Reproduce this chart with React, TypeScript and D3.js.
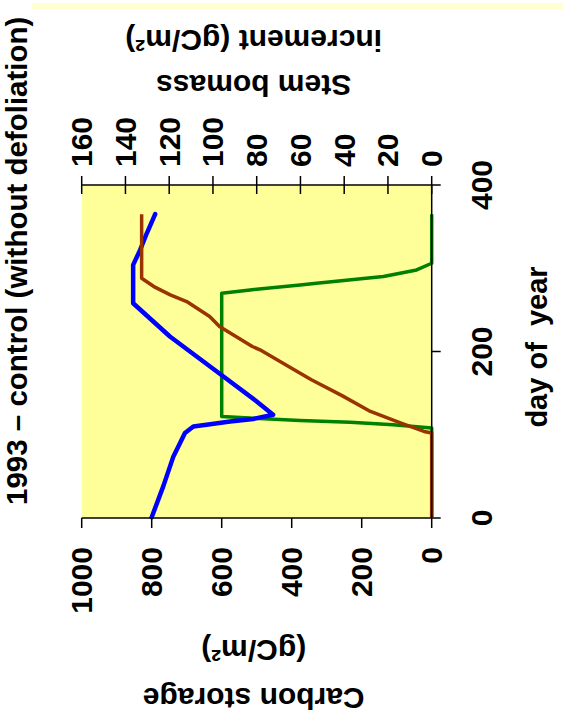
import React from 'react';
import * as d3 from 'd3';

// ---- text ----
const chartTitle = '1993 \u2013 control (without defoliation)';
const dayLabel = 'day of  year';
const carbonLabel = ['Carbon storage', '(gC/m\u00B2)'];
const stemLabel = ['Stem bomass', 'increment (gC/m\u00B2)'];

// ---- ticks ----
const dayTicks = [0, 200, 400];
const carbonTicks = [0, 200, 400, 600, 800, 1000];
const stemTicks = [0, 20, 40, 60, 80, 100, 120, 140, 160];

// ---- series ----
// carbon storage (blue), gC/m2
const storageDays = [1, 38, 74, 90, 102, 110, 112.5, 116, 119, 124, 140, 170, 218, 258, 304, 322, 342, 365];
const storageValues = [800, 767, 738, 719, 705, 681, 633, 576, 510, 453, 500, 595, 748, 853, 853, 833, 814, 790];

// foliage carbon (green), gC/m2
const foliageDays = [1, 108, 112, 115, 117, 120, 122, 270, 274, 280, 282, 290, 298, 306, 365];
const foliageValues = [0, 0, 110, 233, 376, 519, 600, 600, 519, 376, 329, 138, 43, 0, 0];

// stem biomass increment (brown), gC/m2 (right axis)
const stemDays = [1, 102, 104, 114, 128, 147, 166, 176, 202, 206, 230, 242, 260, 268, 278, 288, 365];
const stemValues = [0, 0, 3.5, 14, 28, 41, 55, 61.5, 78.5, 82, 97, 101.5, 112, 119.5, 127, 132.6, 132.6];

const FONT = '"Liberation Sans", Arial, Helvetica, sans-serif';

export default function App() {
  const W = 333; // day axis length
  const H = 350; // value axis length
  const x = d3.scaleLinear().domain([0, 400]).range([0, W]);
  const yC = d3.scaleLinear().domain([0, 1000]).range([H, 0]);
  const yS = d3.scaleLinear().domain([0, 160]).range([H, 0]);

  const lineC = d3.line<[number, number]>().x(d => x(d[0])).y(d => yC(d[1]));
  const lineS = d3.line<[number, number]>().x(d => x(d[0])).y(d => yS(d[1]));

  const storage = storageDays.map((d, i) => [d, storageValues[i]] as [number, number]);
  const foliage = foliageDays.map((d, i) => [d, foliageValues[i]] as [number, number]);
  const stem = stemDays.map((d, i) => [d, stemValues[i]] as [number, number]);

  const txt = { fontFamily: FONT, fontWeight: 'bold' as const, fill: '#000' };

  return (
    <svg width={563} height={716} style={{ position: 'absolute', left: 0, top: 0, background: '#fff' }}>
      <rect x={32} y={3} width={531} height={6} fill="#FFFFD0" />
      <g transform="translate(81.7,518) rotate(-90)">
        <rect x={0} y={0} width={W} height={H} fill="#FFFF99" />
        {/* series */}
        <path d={lineC(foliage) || ''} fill="none" stroke="#008000" strokeWidth={3.5} strokeLinejoin="round" />
        <path d={lineC(storage) || ''} fill="none" stroke="#0000FF" strokeWidth={4.5} strokeLinejoin="round" strokeLinecap="round" />
        <path d={lineS(stem) || ''} fill="none" stroke="#993300" strokeWidth={3.5} strokeLinejoin="round" />

        {/* axes lines */}
        <line x1={0} y1={0} x2={0} y2={H} stroke="#000" strokeWidth={1.5} />
        <line x1={W} y1={0} x2={W} y2={H} stroke="#000" strokeWidth={1.5} />
        <line x1={0} y1={H} x2={W} y2={H} stroke="#000" strokeWidth={1.5} />

        {/* carbon axis (left in original) */}
        {carbonTicks.map(v => (
          <g key={'c' + v}>
            <line x1={0} y1={yC(v)} x2={-10} y2={yC(v)} stroke="#000" strokeWidth={1.5} />
            <text x={-29} y={yC(v)} textAnchor="end" dominantBaseline="central" fontSize={30} {...txt}>{v}</text>
          </g>
        ))}
        {/* stem axis (right in original) */}
        {stemTicks.map(v => (
          <g key={'s' + v}>
            <line x1={W - 9} y1={yS(v)} x2={W + 9} y2={yS(v)} stroke="#000" strokeWidth={1.5} />
            <text x={W + 18} y={yS(v)} textAnchor="start" dominantBaseline="central" fontSize={30} {...txt}>{v}</text>
          </g>
        ))}
        {/* day axis */}
        {dayTicks.map(v => (
          <g key={'d' + v}>
            <line x1={x(v)} y1={H} x2={x(v)} y2={H + 9} stroke="#000" strokeWidth={1.5} />
            <text x={x(v)} y={410} textAnchor="middle" fontSize={30} {...txt}>{v}</text>
          </g>
        ))}
        <text x={171} y={465} textAnchor="middle" fontSize={29} style={{ whiteSpace: 'pre' }} {...txt}>{dayLabel}</text>

        {/* axis titles */}
        <text transform="translate(-170,172) rotate(-90)" textAnchor="middle" fontSize={30} {...txt}>{carbonLabel[0]}</text>
        <text transform="translate(-122,172) rotate(-90)" textAnchor="middle" fontSize={30} {...txt}>{carbonLabel[1]}</text>
        <text transform="translate(443,172) rotate(-90)" textAnchor="middle" fontSize={30} {...txt}>{stemLabel[0]}</text>
        <text transform="translate(488,172) rotate(-90)" textAnchor="middle" fontSize={30} {...txt}>{stemLabel[1]}</text>

        {/* title */}
        <text x={13} y={-55} textAnchor="start" fontSize={29.5} {...txt}>{chartTitle}</text>
      </g>
    </svg>
  );
}
